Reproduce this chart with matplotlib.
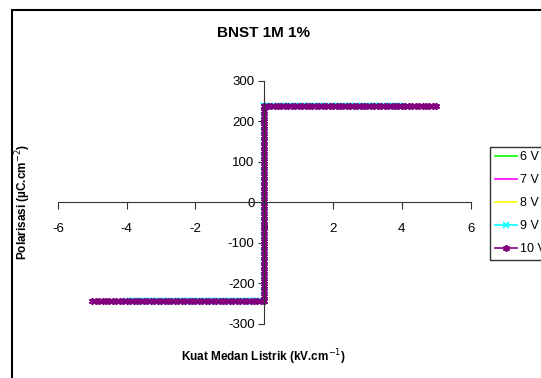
import numpy as np
import matplotlib
matplotlib.use("Agg")
import matplotlib.pyplot as plt
from matplotlib.patches import Rectangle

plt.rcParams['font.family'] = ['Liberation Sans', 'DejaVu Sans']
plt.rcParams['axes.unicode_minus'] = False

# data: each loop sweeps -Emax..Emax, saturates at +/-Ps
labels = ['6 V', '7 V', '8 V', '9 V', '10 V']
e_max = [2.5, 3.0, 3.5, 4.0, 5.0]          # kV/cm
p_pos = [238, 238, 238, 238, 238]           # uC/cm2, upper branch
p_neg = [-243, -243, -243, -243, -243]      # uC/cm2, lower branch
n_pts = [26, 31, 36, 46, 51]                # points per branch
colors = ['#00ff00', '#ff00ff', '#ffff00', '#00ffff', '#800080']
markers = [None, None, None, 'x', (6, 2, 0)]

x_ticks = [-6, -4, -2, 0, 2, 4, 6]
y_ticks = [-300, -200, -100, 0, 100, 200, 300]

fig = plt.figure(figsize=(5.41, 3.78), dpi=100)
ax = fig.add_axes([0.107, 0.143, 0.763, 0.644])

for lab, em, pp, pn, n, c, m in zip(labels, e_max, p_pos, p_neg, n_pts, colors, markers):
    e_low = np.linspace(-em, 0, n)
    e_high = np.linspace(0, em, n)
    p_vert = np.linspace(pn, pp, 40)
    x = np.concatenate([e_low, np.zeros_like(p_vert), e_high])
    y = np.concatenate([np.full(n, pn), p_vert, np.full(n, pp)])
    ax.plot(x, y, color=c, lw=1.2, marker=m, ms=5, mew=1.2, label=lab)

ax.set_xlim(-6, 6)
ax.set_ylim(-300, 300)
ax.set_xticks(x_ticks)
ax.set_yticks(y_ticks)
ax.spines['left'].set_position(('data', 0))
ax.spines['bottom'].set_position(('data', 0))
ax.spines['top'].set_visible(False)
ax.spines['right'].set_visible(False)
for s in ['left', 'bottom']:
    ax.spines[s].set_color('#333333')
ax.tick_params(axis='x', direction='out', length=5, pad=10, labelsize=9.5, color='#333333')
ax.tick_params(axis='y', direction='out', length=4, pad=3, labelsize=9.5, color='#333333')

fig.text(0.487, 0.912, 'BNST 1M 1%', ha='center', va='center', fontsize=11, fontweight='bold')
fig.text(0.487, 0.055, 'Kuat Medan Listrik (kV.cm$^{-1}$)', ha='center', va='center',
         fontsize=8.5, fontweight='bold')
fig.text(0.042, 0.465, 'Polarisasi (µC.cm$^{-2}$)', ha='center', va='center',
         rotation=90, fontsize=8.5, fontweight='bold')

leg = fig.legend(loc='upper left', bbox_to_anchor=(0.906, 0.611), fontsize=9,
                 frameon=True, fancybox=False, edgecolor='black', handlelength=1.8,
                 handletextpad=0.2, borderpad=0.35, labelspacing=0.88, borderaxespad=0)
leg.get_frame().set_linewidth(1.0)

fig.patches.append(Rectangle((12 / 541, -0.1), 1.2, 1.1 - 10 / 378,
                             transform=fig.transFigure, fill=False,
                             edgecolor='black', lw=1.5, clip_on=False))

fig.savefig('out.png', dpi=100)
